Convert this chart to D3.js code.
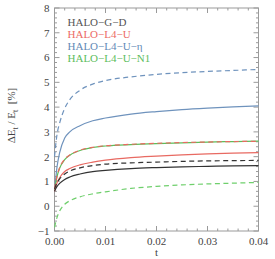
<!DOCTYPE html>
<html>
<head>
<meta charset="utf-8">
<script src="https://cdn.jsdelivr.net/npm/d3@7"></script>
<style>
  body { margin: 0; background: #fff; }
</style>
</head>
<body>
<div id="chart-area"></div>
<script>
const MARGIN = { LEFT: 54.5, RIGHT: 16.5, TOP: 8, BOTTOM: 28 }
const WIDTH = 275 - MARGIN.LEFT - MARGIN.RIGHT
const HEIGHT = 259 - MARGIN.TOP - MARGIN.BOTTOM
const FONT = "'Liberation Serif', 'Times New Roman', 'DejaVu Serif', serif"

// sample times
const times = [0, 0.0005, 0.001, 0.002, 0.003, 0.005, 0.0075, 0.01, 0.015, 0.02, 0.025, 0.03, 0.035, 0.04]

// series values (dE/E in %)
const gdSolid = [0.6, 0.8, 0.92, 1.08, 1.18, 1.3, 1.4, 1.45, 1.52, 1.56, 1.59, 1.61, 1.63, 1.64]
const gdDashed = [0.7, 0.95, 1.1, 1.3, 1.42, 1.55, 1.64, 1.7, 1.75, 1.78, 1.81, 1.83, 1.84, 1.85]
const l4uSolid = [0.6, 0.95, 1.15, 1.4, 1.52, 1.67, 1.78, 1.86, 1.96, 2.02, 2.07, 2.11, 2.14, 2.16]
const l4uDashed = [0.7, 1.22, 1.55, 1.9, 2.07, 2.26, 2.38, 2.44, 2.5, 2.54, 2.57, 2.59, 2.61, 2.62]
const etaSolid = [0.6, 1.6, 2.15, 2.75, 3.0, 3.25, 3.45, 3.56, 3.72, 3.82, 3.9, 3.96, 4.01, 4.05]
const etaDashed = [2.0, 2.9, 3.35, 3.95, 4.3, 4.68, 4.93, 5.07, 5.22, 5.32, 5.39, 5.44, 5.48, 5.52]
const n1Solid = [0.65, 1.2, 1.53, 1.88, 2.06, 2.25, 2.37, 2.43, 2.49, 2.53, 2.56, 2.59, 2.61, 2.63]
const n1Dashed = [-0.85, -0.45, -0.2, 0.08, 0.22, 0.38, 0.5, 0.58, 0.72, 0.8, 0.86, 0.9, 0.93, 0.96]

// tick labels
const xTicks = [0, 0.01, 0.02, 0.03, 0.04]
const yTicks = [-1, 0, 1, 2, 3, 4, 5, 6, 7, 8]
const legendNames = ["HALO\u2212G\u2212D", "HALO\u2212L4\u2212U", "HALO\u2212L4\u2212U\u2212\u03B7", "HALO\u2212L4\u2212U\u2212N1"]
const legendColors = ["#555555", "#ec6a64", "#6289b6", "#5cbd5c"]

const series = [
	{ values: etaDashed, color: "#6f93bd", dash: "5,3.5" },
	{ values: etaSolid, color: "#6f93bd", dash: null },
	{ values: n1Solid, color: "#5cbf5a", dash: null },
	{ values: l4uDashed, color: "#e86a62", dash: "5,3.5" },
	{ values: l4uSolid, color: "#e86a62", dash: null },
	{ values: gdDashed, color: "#333333", dash: "5,3.5" },
	{ values: gdSolid, color: "#333333", dash: null },
	{ values: n1Dashed, color: "#6fcf6c", dash: "5,3.5" }
]

const svg = d3.select("#chart-area").append("svg")
	.attr("width", 275)
	.attr("height", 259)
	.attr("font-family", FONT)

const g = svg.append("g")
	.attr("transform", `translate(${MARGIN.LEFT}, ${MARGIN.TOP})`)

// scales
const x = d3.scaleLinear().domain([0, 0.04]).range([0, WIDTH])
const y = d3.scaleLinear().domain([-1, 8]).range([HEIGHT, 0])

const axisColor = "#9a9a9a"

// minor ticks on all four sides, pointing inward
const xMinor = d3.range(0, 0.0401, 0.002)
const yMinor = d3.range(-1, 8.01, 0.2)

const ticks = g.append("g").attr("stroke", axisColor).attr("stroke-width", 1)
xMinor.forEach((t, i) => {
	const len = i % 5 === 0 ? 5 : 2.5
	ticks.append("line").attr("x1", x(t)).attr("x2", x(t)).attr("y1", HEIGHT).attr("y2", HEIGHT - len)
	ticks.append("line").attr("x1", x(t)).attr("x2", x(t)).attr("y1", 0).attr("y2", len)
})
yMinor.forEach((v, i) => {
	const len = i % 5 === 0 ? 5 : 2.5
	ticks.append("line").attr("x1", 0).attr("x2", len).attr("y1", y(v)).attr("y2", y(v))
	ticks.append("line").attr("x1", WIDTH).attr("x2", WIDTH - len).attr("y1", y(v)).attr("y2", y(v))
})

// frame
g.append("rect")
	.attr("width", WIDTH)
	.attr("height", HEIGHT)
	.attr("fill", "none")
	.attr("stroke", axisColor)
	.attr("stroke-width", 1)

// tick labels
g.selectAll(".xlab").data(xTicks).enter().append("text")
	.attr("class", "xlab")
	.attr("x", d => x(d))
	.attr("y", HEIGHT + 14)
	.attr("text-anchor", "middle")
	.attr("font-size", 11)
	.attr("fill", "#444")
	.text(d => d3.format(".2f")(d))

g.selectAll(".ylab").data(yTicks).enter().append("text")
	.attr("class", "ylab")
	.attr("x", -5)
	.attr("y", d => y(d))
	.attr("dy", "0.35em")
	.attr("text-anchor", "end")
	.attr("font-size", 11)
	.attr("fill", "#444")
	.text(d => d < 0 ? "\u2212" + Math.abs(d) : d)

// axis titles
g.append("text")
	.attr("x", WIDTH / 2)
	.attr("y", HEIGHT + 25)
	.attr("text-anchor", "middle")
	.attr("font-size", 11)
	.attr("fill", "#444")
	.text("t")

const yTitle = g.append("text")
	.attr("transform", `translate(-40, ${HEIGHT / 2 - 4}) rotate(-90)`)
	.attr("text-anchor", "middle")
	.attr("font-size", 11)
	.attr("fill", "#444")
yTitle.append("tspan").text("\u0394E")
yTitle.append("tspan").attr("font-size", 8).attr("dy", 3).text("t")
yTitle.append("tspan").attr("dy", -3).text(" / E")
yTitle.append("tspan").attr("font-size", 8).attr("dy", 3).text("t")
yTitle.append("tspan").attr("dy", -3).text("\u00A0\u00A0[%]")

// lines
const line = d3.line()
	.x((d, i) => x(times[i]))
	.y(d => y(d))
	.curve(d3.curveMonotoneX)

g.selectAll(".series").data(series).enter().append("path")
	.attr("class", "series")
	.attr("fill", "none")
	.attr("stroke", d => d.color)
	.attr("stroke-width", 1.2)
	.attr("stroke-dasharray", d => d.dash)
	.attr("d", d => line(d.values))

// legend
g.selectAll(".legend").data(legendNames).enter().append("text")
	.attr("class", "legend")
	.attr("x", 13)
	.attr("y", (d, i) => 18 + i * 12)
	.attr("font-size", 11)
	.attr("fill", (d, i) => legendColors[i])
	.text(d => d)
</script>
</body>
</html>
